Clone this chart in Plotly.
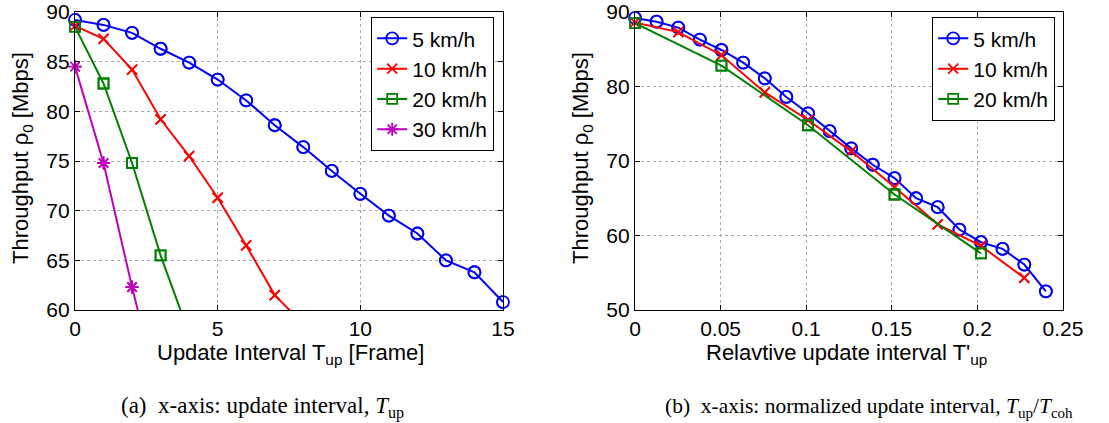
import plotly.graph_objects as go

# ---------------- data ----------------
# (a) x-axis: update interval T_up [frame]
t5 = [0, 1, 2, 3, 4, 5, 6, 7, 8, 9, 10, 11, 12, 13, 14, 15]
v5 = [89.2, 88.7, 87.9, 86.3, 84.9, 83.2, 81.1, 78.6, 76.4, 74.0, 71.7, 69.5, 67.7, 65.0, 63.8, 60.8]
t10 = [0, 1, 2, 3, 4, 5, 6, 7, 8]
v10 = [88.6, 87.3, 84.2, 79.2, 75.5, 71.3, 66.5, 61.5, 58.6]
t20 = [0, 1, 2, 3, 4]
v20 = [88.5, 82.8, 74.8, 65.5, 57.6]
t30 = [0, 1, 2, 3]
v30 = [84.5, 74.8, 62.3, 50.8]

# (b) x-axis: normalized update interval T_up / T_coh
r5 = [0, 0.0126, 0.0253, 0.0379, 0.0505, 0.0632, 0.0758, 0.0884, 0.1011, 0.1137,
      0.1263, 0.1389, 0.1516, 0.1642, 0.1768, 0.1895, 0.2021, 0.2147, 0.2274, 0.2400]
w5 = [89.2, 88.7, 87.9, 86.3, 84.9, 83.2, 81.1, 78.6, 76.4, 74.0,
      71.7, 69.5, 67.7, 65.0, 63.8, 60.8, 59.1, 58.2, 56.1, 52.5]
r10 = [0, 0.0253, 0.0505, 0.0758, 0.1011, 0.1263, 0.1516, 0.1768, 0.2021, 0.2274]
w10 = [88.6, 87.3, 84.2, 79.2, 75.5, 71.3, 66.5, 61.5, 58.6, 54.3]
r20 = [0, 0.0505, 0.1011, 0.1516, 0.2021]
w20 = [88.5, 82.8, 74.8, 65.5, 57.6]

names = ["5 km/h", "10 km/h", "20 km/h", "30 km/h"]

left_xticks = [0, 5, 10, 15]
left_yticks = [60, 65, 70, 75, 80, 85, 90]
right_xticks = [0, 0.05, 0.1, 0.15, 0.2, 0.25]
right_xticktext = ["0", "0.05", "0.1", "0.15", "0.2", "0.25"]
right_yticks = [50, 60, 70, 80, 90]

# ---------------- styling ----------------
colors = ["#0000FF", "#FF0000", "#008000", "#BF00BF"]
symbols = ["circle-open", "x-thin-open", "square-open", "asterisk-open"]
msizes = [12, 10, 10, 11]
SANS = "Liberation Sans, Arial, sans-serif"
SERIF = "Liberation Serif, Times New Roman, serif"
FS = 22
LFS = 21
TFS = 21

W, H = 1109, 423
def px(x):
    return x / W
def py(y):
    return 1 - y / H

fig = go.Figure()

def add_series(xs, ys, i, xa, ya, legend, ymin, xmax):
    fig.add_trace(go.Scatter(
        x=xs, y=ys, name=names[i], mode="lines+markers",
        line=dict(color=colors[i], width=2),
        marker=dict(symbol=symbols[i], size=msizes[i], color=colors[i],
                    line=dict(color=colors[i], width=1.8)),
        xaxis=xa, yaxis=ya, legend=legend, cliponaxis=True, showlegend=True))
    inx = [x for x, y in zip(xs, ys) if y >= ymin and x <= xmax]
    iny = [y for x, y in zip(xs, ys) if y >= ymin and x <= xmax]
    fig.add_trace(go.Scatter(
        x=inx, y=iny, mode="markers", showlegend=False, hoverinfo="skip",
        marker=dict(symbol=symbols[i], size=msizes[i], color=colors[i],
                    line=dict(color=colors[i], width=1.8)),
        xaxis=xa, yaxis=ya, cliponaxis=False))

add_series(t5, v5, 0, "x", "y", "legend", 60, 15)
add_series(t10, v10, 1, "x", "y", "legend", 60, 15)
add_series(t20, v20, 2, "x", "y", "legend", 60, 15)
add_series(t30, v30, 3, "x", "y", "legend", 60, 15)

add_series(r5, w5, 0, "x2", "y2", "legend2", 50, 0.25)
add_series(r10, w10, 1, "x2", "y2", "legend2", 50, 0.25)
add_series(r20, w20, 2, "x2", "y2", "legend2", 50, 0.25)

axis_common = dict(
    showline=True, linecolor="black", linewidth=1.2, mirror="ticks",
    ticks="inside", ticklen=5, tickcolor="black", tickwidth=1,
    showgrid=True, gridcolor="#a8a8a8", griddash="dot", gridwidth=1,
    zeroline=False, automargin=False, ticklabeloverflow="allow",
    tickfont=dict(family=SANS, size=TFS, color="black"),
)

ydom = [py(310), py(12)]
fig.update_layout(
    width=W, height=H,
    margin=dict(l=0, r=0, t=0, b=0, autoexpand=False),
    paper_bgcolor="white", plot_bgcolor="white",
    xaxis=dict(domain=[px(75), px(503)], range=[0, 15], tickvals=left_xticks,
               anchor="y", **axis_common),
    yaxis=dict(domain=ydom, range=[60, 90], tickvals=left_yticks,
               anchor="x", **axis_common),
    xaxis2=dict(domain=[px(635), px(1063)], range=[0, 0.25], tickvals=right_xticks,
                ticktext=right_xticktext, anchor="y2", **axis_common),
    yaxis2=dict(domain=ydom, range=[50, 90], tickvals=right_yticks,
                anchor="x2", **axis_common),
    legend=dict(x=px(494), y=py(17), xanchor="right", yanchor="top",
                bgcolor="white", bordercolor="black", borderwidth=1.2,
                font=dict(family=SANS, size=LFS, color="black"),
                tracegroupgap=0, itemwidth=30),
    legend2=dict(x=px(1055), y=py(17), xanchor="right", yanchor="top",
                 bgcolor="white", bordercolor="black", borderwidth=1.2,
                 font=dict(family=SANS, size=LFS, color="black"),
                 tracegroupgap=0, itemwidth=30),
    showlegend=True,
)

ann_font = dict(family=SANS, size=FS, color="black")
annotations = [
    dict(text="Throughput ρ<sub>0</sub> [Mbps]", x=px(22), y=py(158), textangle=-90),
    dict(text="Throughput ρ<sub>0</sub> [Mbps]", x=px(582), y=py(158), textangle=-90),
    dict(text="Update Interval T<sub>up</sub> [Frame]", x=px(290), y=py(354)),
    dict(text="Relavtive update interval T'<sub>up</sub>", x=px(846), y=py(354)),
]
for a in annotations:
    fig.add_annotation(xref="paper", yref="paper", showarrow=False,
                       xanchor="center", yanchor="middle", font=ann_font, **a)

fig.add_annotation(xref="paper", yref="paper", showarrow=False,
                   font=dict(family=SERIF, size=23, color="black"),
                   text="(a)  x-axis: update interval, <i>T</i><sub>up</sub>",
                   x=px(262), y=py(407), xanchor="center", yanchor="middle")
fig.add_annotation(xref="paper", yref="paper", showarrow=False,
                   font=dict(family=SERIF, size=21.5, color="black"),
                   text="(b)  x-axis: normalized update interval, <i>T</i><sub>up</sub>/<i>T</i><sub>coh</sub>",
                   x=px(869), y=py(407), xanchor="center", yanchor="middle")

fig.write_html("out.html")
